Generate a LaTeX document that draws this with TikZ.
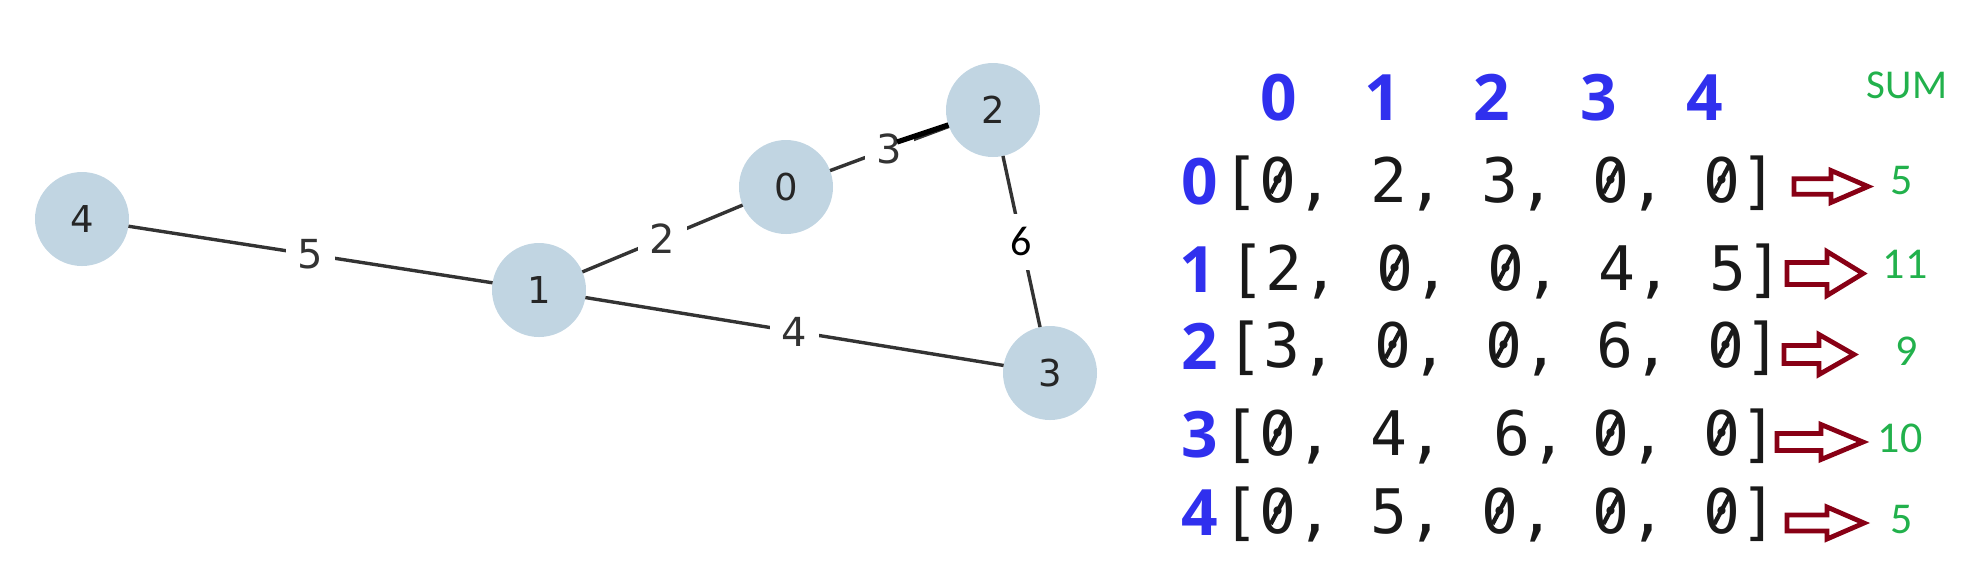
\documentclass[tikz,border=0pt]{standalone}
\usepackage{graphicx}
\usepackage{fontspec}
\setmainfont{DejaVu Sans}
\newfontfamily\monofnt{DejaVu Sans Mono}
\newfontfamily\blfnt{Open Sans}
\newfontfamily\calfnt{Carlito}
\definecolor{nodeblue}{RGB}{193,213,226}
\definecolor{edgegray}{RGB}{51,51,51}
\definecolor{mblue}{RGB}{48,48,238}
\definecolor{mgreen}{RGB}{34,177,76}
\definecolor{mred}{RGB}{136,0,21}
\newcommand\szero{\ooalign{0\cr\hidewidth\raisebox{0.13em}{\rotatebox{62}{\rule{0.52em}{0.07em}}}\hidewidth\cr}}
\newcommand\redarrow[6]{% x1, x2, yc, head height, shaft height, head length
  \draw[sumarrow] (#1,{#3-#5/2}) -- ({#2-#6},{#3-#5/2}) -- ({#2-#6},{#3-#4/2}) -- (#2,#3)
    -- ({#2-#6},{#3+#4/2}) -- ({#2-#6},{#3+#5/2}) -- (#1,{#3+#5/2}) -- cycle;}
\begin{document}
\begin{tikzpicture}[x=0.5pt,y=-0.5pt,
  vert/.style={circle, fill=nodeblue, minimum size=47pt, inner sep=0pt, outer sep=0pt,
    text=black!85, font=\fontsize{18.5}{18.5}\selectfont},
  gedge/.style={draw=edgegray, line width=1.7pt},
  blackseg/.style={draw=black, line width=2.6pt},
  elabel/.style={fill=white, inner xsep=6pt, inner ysep=3pt, text=edgegray,
    font=\fontsize{20}{20}\selectfont},
  elabelsix/.style={fill=white, inner xsep=4pt, minimum height=28pt, text=black,
    font=\calfnt\fontsize{21}{21}\selectfont},
  hdr/.style={anchor=base, inner sep=0pt, text=mblue, font=\blfnt\bfseries\fontsize{32}{32}\selectfont},
  mrow/.style={anchor=base, inner sep=0pt, text=black!90, font=\monofnt\fontsize{30.7}{30.7}\selectfont},
  sumtxt/.style={anchor=base, inner sep=0pt, text=mgreen, font=\calfnt\fontsize{22}{22}\selectfont},
  sumarrow/.style={draw=mred, fill=white, line width=2.4pt, line join=miter}]
\useasboundingbox (0,0) rectangle (1987,570);
% graph
\node[vert] (n4) at (82,219) {4};
\node[vert] (n1) at (539,290) {1};
\node[vert] (n0) at (786,187) {0};
\node[vert] (n2) at (993,110) {2};
\node[vert] (n3) at (1050,373) {3};
\draw[gedge] (n4) -- node[elabel] (l5) {5} (n1);
\draw[gedge] (n1) -- node[elabel] (l2) {2} (n0);
\draw[gedge] (n0) -- node[elabel] (l3) {3} (n2);
\draw[gedge] (n1) -- node[elabel] (l4) {4} (n3);
\draw[gedge] (n2) -- node[elabelsix] (l6) {6} (n3);
\coordinate (b3) at (897,142);
\draw[blackseg] (b3) -- (n2);
% header
\node[hdr] (h0) at (1279,120) {0};
\node[hdr] (h1) at (1383,120) {1};
\node[hdr] (h2) at (1492,120) {2};
\node[hdr] (h3) at (1599,120) {3};
\node[hdr] (h4) at (1705,120) {4};
\node[sumtxt, font=\calfnt\fontsize{20.5}{20.5}\selectfont] (sum) at (1907,98) {SUM};
% row labels
\node[hdr] (r0) at (1200,204) {0};
\node[hdr] (r1) at (1198,292) {1};
\node[hdr] (r2) at (1200,369) {2};
\node[hdr] (r3) at (1200,457) {3};
\node[hdr] (r4) at (1200,535) {4};
% rows
\node[mrow] (m0) at (1500,202) {[\szero, 2, 3, \szero, \szero]};
\node[mrow] (m1) at (1506,290) {[2, \szero, \szero, 4, 5]};
\node[mrow] (m2) at (1504,367) {[3, \szero, \szero, 6, \szero]};
\node[mrow] (m3) at (1500,455) {[\szero, 4, \kern6pt 6,\kern-6pt{} \szero, \szero]};
\node[mrow] (m4) at (1500,533) {[\szero, 5, \szero, \szero, \szero]};
% arrows
\redarrow{1794}{1868}{186.5}{32}{15.5}{37}
\redarrow{1787}{1863}{273.5}{44}{22}{36}
\redarrow{1784}{1854}{354.5}{40}{18}{35}
\redarrow{1777}{1863}{442}{35}{17}{42}
\redarrow{1787}{1864}{523}{32}{16}{37}
% sums
\node[sumtxt] (s0) at (1902,194) {5};
\node[sumtxt] (s1) at (1905,278) {11};
\node[sumtxt] (s2) at (1907,365) {9};
\node[sumtxt] (s3) at (1900,452) {10};
\node[sumtxt] (s4) at (1902,533) {5};
\end{tikzpicture}
\end{document}
